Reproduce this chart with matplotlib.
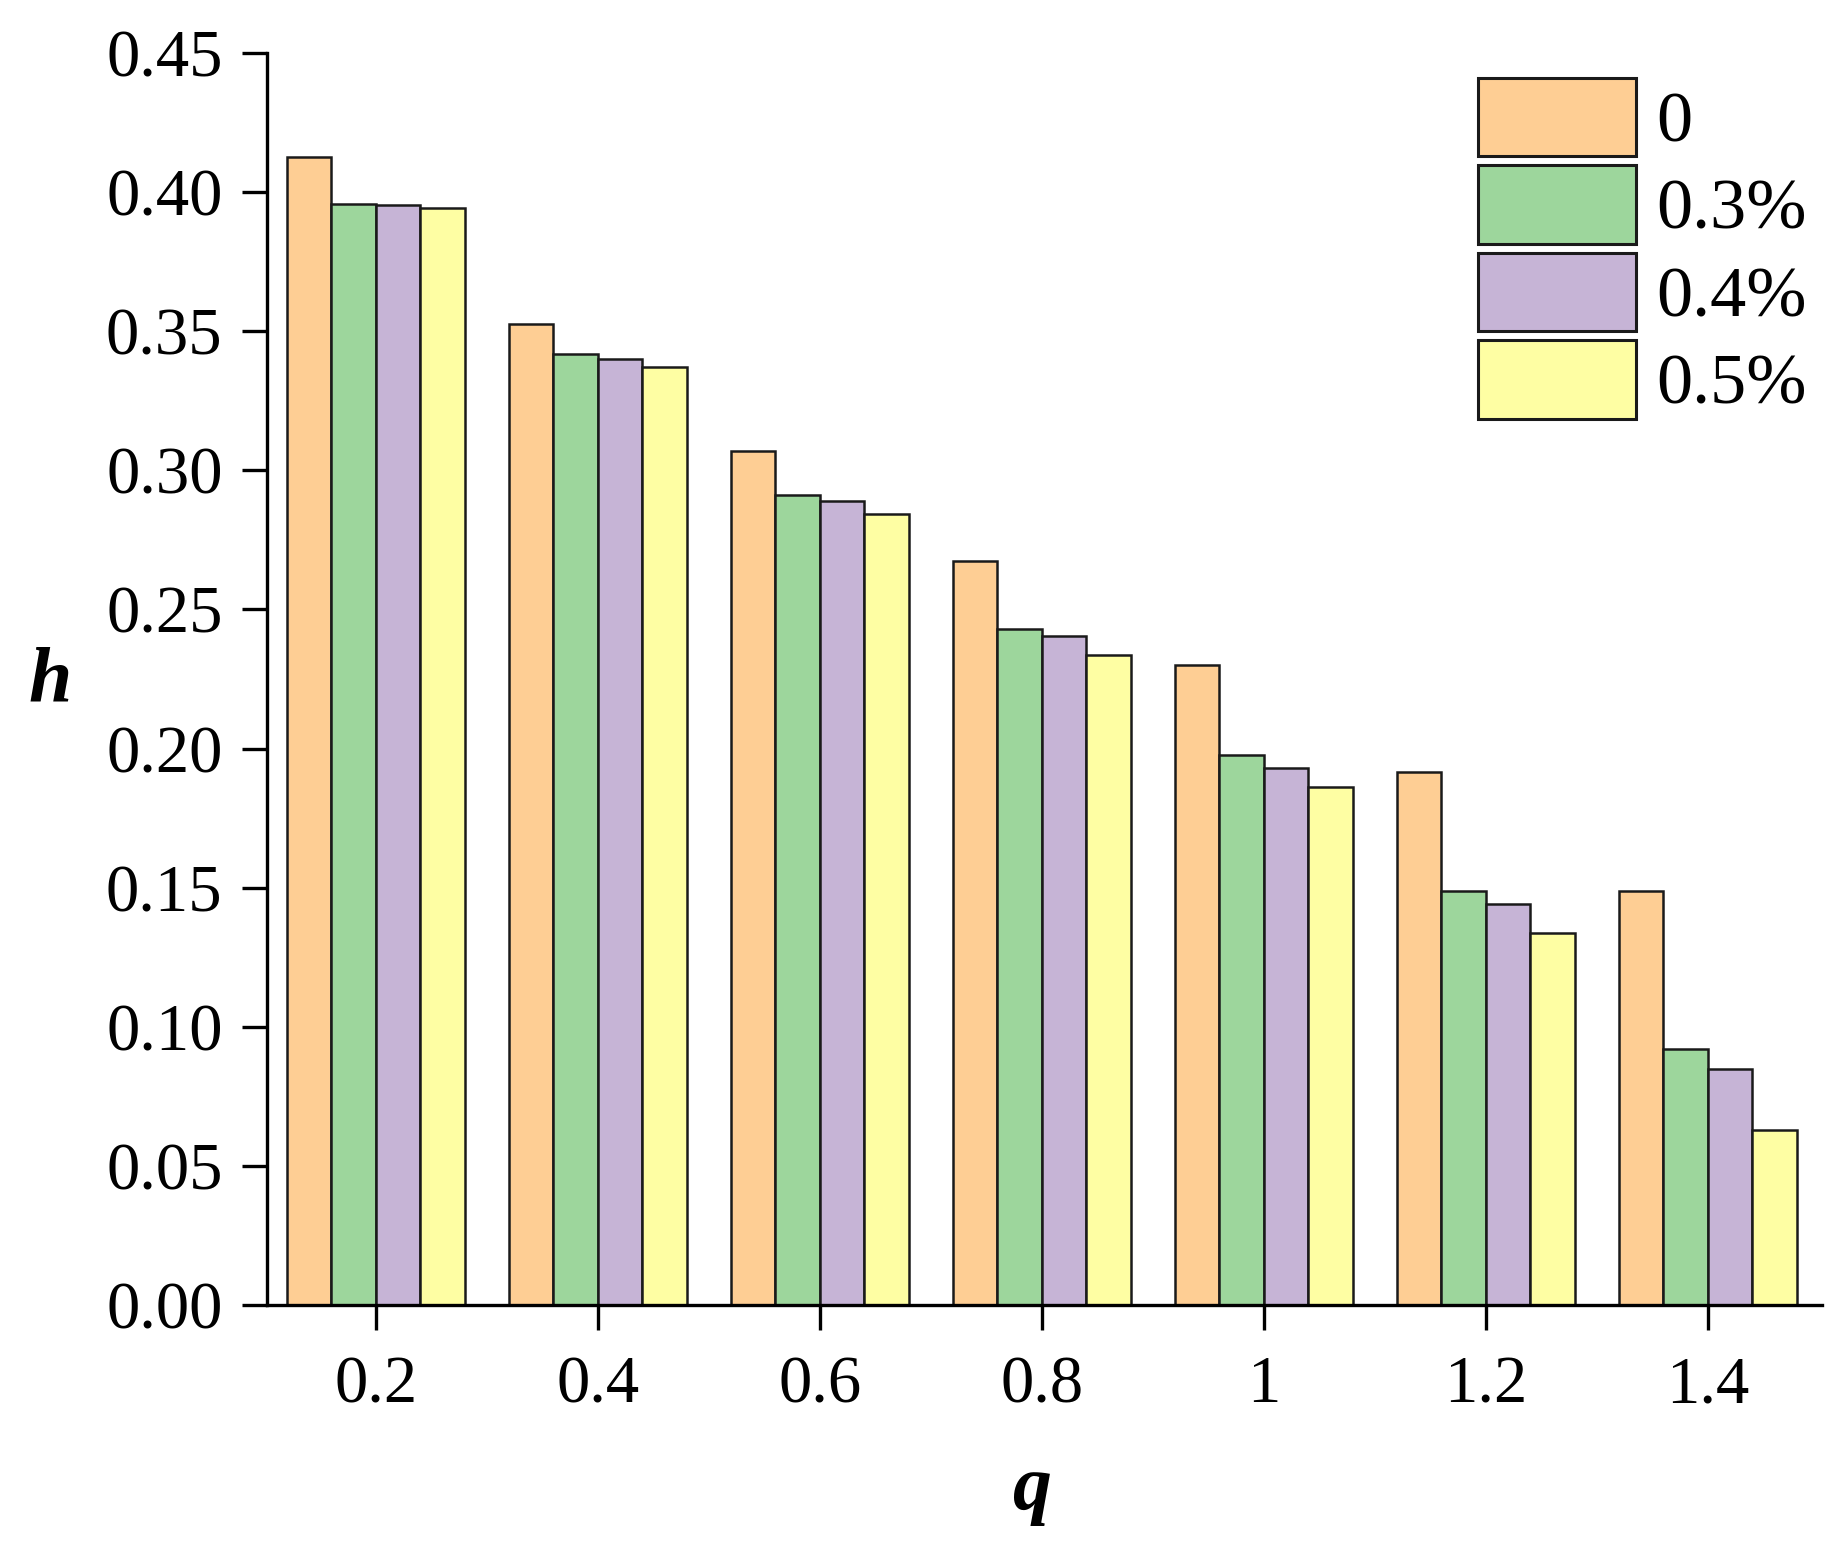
import numpy as np
import matplotlib
matplotlib.use("Agg")
import matplotlib.pyplot as plt

plt.rcParams['font.family'] = ['Liberation Serif', 'DejaVu Serif']

# data
q_labels = ["0.2", "0.4", "0.6", "0.8", "1", "1.2", "1.4"]
series_names = ["0", "0.3%", "0.4%", "0.5%"]
h_0 = [0.4127, 0.3526, 0.3068, 0.2674, 0.2300, 0.1915, 0.1488]
h_03 = [0.3958, 0.3418, 0.2910, 0.2428, 0.1975, 0.1488, 0.0920]
h_04 = [0.3953, 0.3400, 0.2890, 0.2403, 0.1930, 0.1443, 0.0850]
h_05 = [0.3942, 0.3372, 0.2843, 0.2335, 0.1860, 0.1336, 0.0630]
colors = ["#FECE94", "#9DD69C", "#C6B4D6", "#FEFEA3"]

fig = plt.figure(figsize=(18.48, 15.56), dpi=100)
ax = fig.add_axes([0.1445, 0.1613, 0.8415, 0.8047])

x = np.arange(len(q_labels))
w = 0.2
for i, (vals, name) in enumerate(zip([h_0, h_03, h_04, h_05], series_names)):
    ax.bar(x + (i - 1.5) * w, vals, width=w, color=colors[i],
           edgecolor="#1a1a1a", linewidth=1.8, label=name, zorder=2)

ax.set_xlim(-0.49, 6.515)
ax.set_ylim(0, 0.45)
ax.set_xticks(x)
ax.set_xticklabels(q_labels)
ax.set_yticks(np.arange(0, 0.451, 0.05))
ax.set_yticklabels(["%.2f" % v for v in np.arange(0, 0.451, 0.05)])

for s in ["top", "right"]:
    ax.spines[s].set_visible(False)
for s in ["left", "bottom"]:
    ax.spines[s].set_linewidth(2.4)
    ax.spines[s].set_zorder(3)

ax.tick_params(axis="y", direction="out", length=18, width=2.4, labelsize=48, pad=14)
ax.tick_params(axis="x", direction="out", length=18, width=2.4, labelsize=48, pad=18)

fig.text(0.027, 0.562, "h", fontsize=56, fontweight="bold", style="italic",
         ha="center", va="center")
fig.text(0.558, 0.042, "q", fontsize=56, fontweight="bold", style="italic",
         ha="center", va="center")

leg = ax.legend(loc="upper right", bbox_to_anchor=(1.0136, 1.009), frameon=False,
                fontsize=52, handlelength=2.2, handleheight=1.3,
                labelspacing=0.12, handletextpad=0.28, borderaxespad=0.1)
for p in leg.get_patches():
    p.set_linewidth(2.2)

fig.savefig("out.png", dpi=100)
